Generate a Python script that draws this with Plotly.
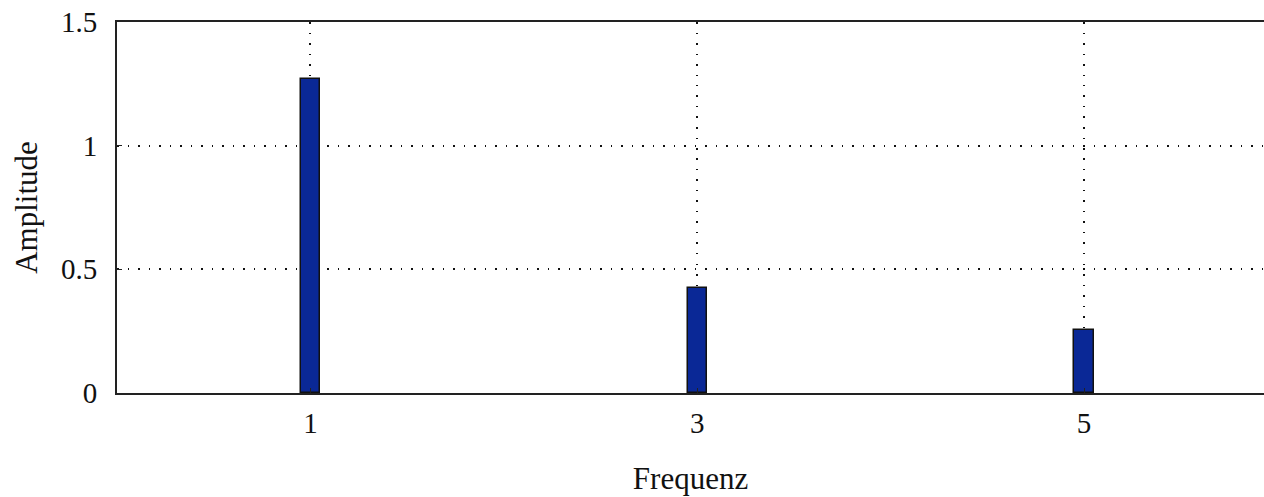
import plotly.graph_objects as go

frequencies = [1, 3, 5]
amplitudes = [1.27, 0.425, 0.255]
x_ticks = [1, 3, 5]
y_ticks = [0, 0.5, 1, 1.5]
y_tick_labels = ["0", "0.5", "1", "1.5"]

font = "Liberation Serif"

fig = go.Figure()
fig.add_trace(go.Bar(
    x=frequencies, y=amplitudes, width=0.1,
    marker=dict(color="#0a2896", line=dict(color="#111111", width=1.5)),
))

fig.update_layout(
    width=1264, height=497,
    margin=dict(l=117, r=0, t=22, b=104),
    plot_bgcolor="white", paper_bgcolor="white",
    showlegend=False,
    font=dict(family=font, size=29, color="#111111"),
    bargap=0,
)
fig.update_xaxes(
    range=[0, 5.93], tickvals=x_ticks, ticktext=[str(v) for v in x_ticks],
    showline=True, linecolor="#222222", linewidth=2, mirror=True,
    ticks="inside", ticklen=5, tickcolor="#222222",
    showgrid=True, gridcolor="#111111", gridwidth=1.5, griddash="1.5px,9px",
    zeroline=False,
    title=dict(text="Frequenz", font=dict(family=font, size=31), standoff=30),
    ticklabelstandoff=3,
)
fig.update_yaxes(
    range=[0, 1.5], tickvals=y_ticks, ticktext=y_tick_labels,
    showline=True, linecolor="#222222", linewidth=2, mirror=False,
    ticks="inside", ticklen=5, tickcolor="#222222",
    showgrid=True, gridcolor="#111111", gridwidth=1.5, griddash="1.5px,9px",
    zeroline=False,
    title=dict(text="Amplitude", font=dict(family=font, size=31), standoff=14),
    ticklabelstandoff=12,
)

fig.write_html("out.html")
